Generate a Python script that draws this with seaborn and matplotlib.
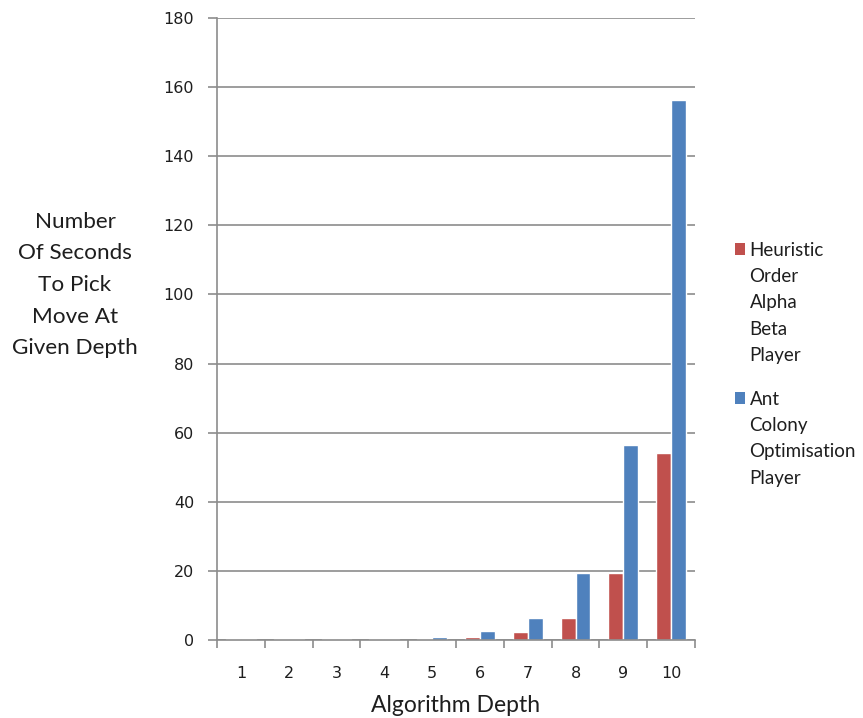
import matplotlib
matplotlib.use("Agg")
import matplotlib.pyplot as plt
import seaborn as sns
import pandas as pd
import numpy as np
from matplotlib.patches import Patch

# Search depth used by each player
depths = ["1", "2", "3", "4", "5", "6", "7", "8", "9", "10"]

# Seconds to pick a move at each depth
heuristic_alpha_beta = [0.3, 0.3, 0.3, 0.3, 0.4, 0.8, 2.2, 6.4, 19.5, 54.0]
ant_colony = [0.3, 0.3, 0.3, 0.3, 0.9, 2.7, 6.4, 19.4, 56.5, 156.2]

series_names = ["Heuristic Order Alpha Beta Player", "Ant Colony Optimisation Player"]
legend_lines = [["Heuristic", "Order", "Alpha", "Beta", "Player"],
                ["Ant", "Colony", "Optimisation", "Player"]]
colors = ["#C0504D", "#4F81BD"]

y_ticks = [0, 20, 40, 60, 80, 100, 120, 140, 160, 180]

df = pd.DataFrame({
    "depth": depths * 2,
    "seconds": heuristic_alpha_beta + ant_colony,
    "player": [series_names[0]] * len(depths) + [series_names[1]] * len(depths),
})

sns.set_theme(style="white")
plt.rcParams["font.family"] = ["Lato", "DejaVu Sans"]

text_color = "#1e1e1e"
axis_color = "#8c8c8c"

fig = plt.figure(figsize=(8.63, 7.18), dpi=100)
ax = fig.add_axes([217 / 863, 78 / 718, (695 - 217) / 863, (640 - 18) / 718])

sns.barplot(data=df, x="depth", y="seconds", hue="player", order=depths,
            hue_order=series_names, palette=colors, width=0.62,
            saturation=1, legend=False, ax=ax, errorbar=None)

ax.set_ylim(0, 180)
ax.set_xlim(-0.5, len(depths) - 0.5)
ax.set_yticks(y_ticks)
ax.set_yticklabels([str(v) for v in y_ticks], fontfamily="DejaVu Sans",
                   fontsize=11.5, color=text_color)
ax.yaxis.grid(True, color=axis_color, linewidth=1.2)
ax.set_axisbelow(True)

# Category boundaries carry the x tick marks
ax.set_xticks(np.arange(len(depths)))
ax.set_xticklabels(depths, fontfamily="DejaVu Sans", fontsize=11.5, color=text_color)
ax.set_xticks(np.arange(len(depths) + 1) - 0.5, minor=True)
ax.tick_params(axis="x", which="major", length=0, pad=19)
ax.tick_params(axis="x", which="minor", length=6, width=1.2, color=axis_color, bottom=True)
ax.tick_params(axis="y", which="major", length=6.5, width=1.2, color=axis_color, left=True, pad=10)

for side in ["top", "right"]:
    ax.spines[side].set_visible(False)
for side in ["left", "bottom"]:
    ax.spines[side].set_color(axis_color)
    ax.spines[side].set_linewidth(1.2)

ax.set_xlabel("Algorithm Depth", fontsize=16.5, color=text_color, labelpad=10)
ax.set_ylabel("")
fig.text(75 / 863, 1 - 285 / 718, "Number\nOf Seconds\nTo Pick\nMove At\nGiven Depth",
         ha="center", va="center", fontsize=16.2, color=text_color, linespacing=1.72)

# Legend: one block per player, swatch beside the first line of the name
blank = Patch(facecolor="none", edgecolor="none")
legend_tops = [234, 383]
for lines, c, top in zip(legend_lines, colors, legend_tops):
    handles = [Patch(facecolor=c, edgecolor="none")] + [blank] * (len(lines) - 1)
    leg = fig.legend(handles, lines, loc="upper left",
                     bbox_to_anchor=(727 / 863, 1 - top / 718), frameon=False,
                     handlelength=0.55, handleheight=0.55, handletextpad=0.25,
                     labelspacing=0.5, borderaxespad=0, labelcolor=text_color,
                     prop={"family": "Lato", "size": 13.5})

fig.savefig("out.png", dpi=100, facecolor="white")
